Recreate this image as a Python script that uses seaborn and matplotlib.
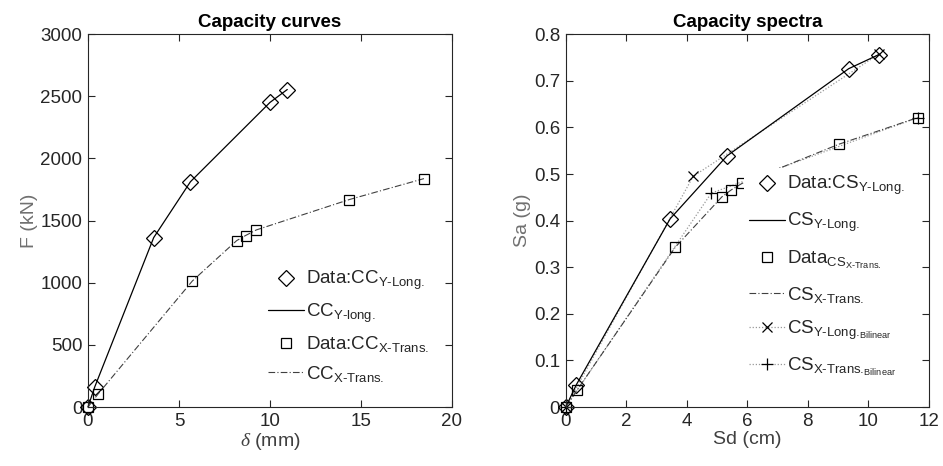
import numpy as np
import pandas as pd
import matplotlib
matplotlib.use("Agg")
import matplotlib.pyplot as plt
import seaborn as sns

# ---- data ----
ccy_d = [0, 0.37, 3.61, 5.63, 10.0, 10.95]
ccy_f = [0, 161, 1363, 1813, 2451, 2555]
ccx_d = [0, 0.55, 5.74, 8.17, 8.66, 9.25, 14.35, 18.46]
ccx_f = [0, 104, 1015, 1339, 1380, 1425, 1669, 1838]

csy_sd = [0, 0.35, 3.45, 5.33, 9.35, 10.34]
csy_sa = [0, 0.048, 0.404, 0.539, 0.726, 0.756]
csx_sd = [0, 0.37, 3.62, 5.16, 5.47, 5.83, 9.03, 11.63]
csx_sa = [0, 0.036, 0.343, 0.451, 0.466, 0.480, 0.564, 0.621]
biy_sd = [0, 4.21, 10.34]
biy_sa = [0, 0.495, 0.757]
bix_sd = [0, 4.81, 11.63]
bix_sa = [0, 0.459, 0.621]

x_ticks_left = [0, 5, 10, 15, 20]
y_ticks_left = [0, 500, 1000, 1500, 2000, 2500, 3000]
x_ticks_right = [0, 2, 4, 6, 8, 10, 12]
y_ticks_right = [0, 0.1, 0.2, 0.3, 0.4, 0.5, 0.6, 0.7, 0.8]

sns.set_style("ticks")
plt.rcParams["font.family"] = ["Liberation Sans", "DejaVu Sans"]
plt.rcParams["mathtext.fontset"] = "custom"
plt.rcParams["mathtext.rm"] = "Liberation Sans"
plt.rcParams["mathtext.it"] = "Liberation Serif:italic"
plt.rcParams["mathtext.bf"] = "Liberation Sans:bold"
plt.rcParams["mathtext.default"] = "regular"

fig = plt.figure(figsize=(9.43, 4.66), dpi=100)
axL = fig.add_axes([0.0933, 0.1266, 0.386, 0.800])
axR = fig.add_axes([0.600, 0.1266, 0.385, 0.800])

TXT = "#262626"
GRAY = "#999999"
DASHDOT = (0, (6, 2, 1, 2))
DOT = (0, (1, 1.5))
FS_TICK = 13.5
FS_LAB = 14
FS_LEG = 13.5
FS_TITLE = 13.5


def style(ax):
    for s in ax.spines.values():
        s.set_color("#262626")
        s.set_linewidth(0.8)
    ax.tick_params(direction="in", length=5, width=0.8, top=True, right=True,
                   labelsize=FS_TICK, colors="#262626", pad=4)


# ---- Left: capacity curves ----
sns.lineplot(x=ccy_d, y=ccy_f, ax=axL, sort=False, estimator=None, color="black",
             lw=0.9, marker="D", markersize=8, markerfacecolor="none",
             markeredgecolor="black", markeredgewidth=0.9, label="_a", clip_on=False)
sns.lineplot(x=ccx_d, y=ccx_f, ax=axL, sort=False, estimator=None, color="#404040",
             lw=0.8, linestyle=DASHDOT, marker="s", markersize=7,
             markerfacecolor="none", markeredgecolor="black", markeredgewidth=0.9,
             label="_b", clip_on=False)
axL.set_xlim(0, 20)
axL.set_ylim(0, 3000)
axL.set_xticks(x_ticks_left)
axL.set_yticks(y_ticks_left)
axL.set_title("Capacity curves", fontsize=FS_TITLE, fontweight="bold", color="black", pad=5)
axL.set_xlabel(r"$\it{\delta}$ (mm)", fontsize=FS_LAB, color="#404040", labelpad=1)
axL.set_ylabel("F (kN)", fontsize=FS_LAB, color="#707070", labelpad=2)
style(axL)

hL = [
    plt.Line2D([], [], ls="none", marker="D", ms=8, mfc="none", mec="black", mew=0.9),
    plt.Line2D([], [], color="black", lw=0.9),
    plt.Line2D([], [], ls="none", marker="s", ms=7, mfc="none", mec="black", mew=0.9),
    plt.Line2D([], [], color="#404040", lw=0.8, ls=DASHDOT),
]
lL = [
    r"Data:CC$_{\text{Y-Long.}}$",
    r"CC$_{\text{Y-long.}}$",
    r"Data:CC$_{\text{X-Trans.}}$",
    r"CC$_{\text{X-Trans.}}$",
]
legL = axL.legend(hL, lL, loc="upper left", bbox_to_anchor=(0.48, 0.385),
                  borderaxespad=0, frameon=True, fontsize=FS_LEG, handlelength=1.9,
                  handletextpad=0.1, labelspacing=0.5, borderpad=0.3)
legL.get_frame().set_edgecolor("none")
legL.get_frame().set_facecolor("white")
legL.get_frame().set_alpha(1)
for t in legL.get_texts():
    t.set_color(TXT)

# ---- Right: capacity spectra ----
sns.lineplot(x=biy_sd, y=biy_sa, ax=axR, sort=False, estimator=None, color=GRAY,
             lw=0.9, linestyle=DOT, marker="x", markersize=7,
             markeredgecolor="black", markeredgewidth=0.9, label="_c", clip_on=False)
sns.lineplot(x=bix_sd, y=bix_sa, ax=axR, sort=False, estimator=None, color=GRAY,
             lw=0.9, linestyle=DOT, marker="+", markersize=9,
             markeredgecolor="black", markeredgewidth=0.9, label="_d", clip_on=False)
sns.lineplot(x=csy_sd, y=csy_sa, ax=axR, sort=False, estimator=None, color="black",
             lw=0.9, marker="D", markersize=8, markerfacecolor="none",
             markeredgecolor="black", markeredgewidth=0.9, label="_e", clip_on=False)
sns.lineplot(x=csx_sd, y=csx_sa, ax=axR, sort=False, estimator=None, color="#404040",
             lw=0.8, linestyle=DASHDOT, marker="s", markersize=7,
             markerfacecolor="none", markeredgecolor="black", markeredgewidth=0.9,
             label="_f", clip_on=False)
axR.set_xlim(0, 12)
axR.set_ylim(0, 0.8)
axR.set_xticks(x_ticks_right)
axR.set_yticks(y_ticks_right)
axR.set_yticklabels(["0" if v == 0 else f"{v:.1f}" for v in y_ticks_right])
axR.set_title("Capacity spectra", fontsize=FS_TITLE, fontweight="bold", color="black", pad=5)
axR.set_xlabel("Sd (cm)", fontsize=FS_LAB, color="#404040", labelpad=1)
axR.set_ylabel("Sa (g)", fontsize=FS_LAB, color="#707070", labelpad=2)
style(axR)

hR = [
    plt.Line2D([], [], ls="none", marker="D", ms=8, mfc="none", mec="black", mew=0.9),
    plt.Line2D([], [], color="black", lw=0.9),
    plt.Line2D([], [], ls="none", marker="s", ms=7, mfc="none", mec="black", mew=0.9),
    plt.Line2D([], [], color="#404040", lw=0.8, ls=DASHDOT),
    plt.Line2D([], [], color=GRAY, lw=0.9, ls=DOT, marker="x", ms=7,
               mec="black", mew=0.9),
    plt.Line2D([], [], color=GRAY, lw=0.9, ls=DOT, marker="+", ms=9,
               mec="black", mew=0.9),
]
lR = [
    r"Data:CS$_{\text{Y-Long.}}$",
    r"CS$_{\text{Y-Long.}}$",
    r"Data$_{\text{CS}_{\text{X-Trans.}}}$",
    r"CS$_{\text{X-Trans.}}$",
    r"CS$_{\text{Y-Long.}_{\text{Bilinear}}}$",
    r"CS$_{\text{X-Trans.}_{\text{Bilinear}}}$",
]
legR = axR.legend(hR, lR, loc="upper left", bbox_to_anchor=(0.49, 0.64),
                  borderaxespad=0, frameon=True, fontsize=FS_LEG, handlelength=1.9,
                  handletextpad=0.1, labelspacing=0.75, borderpad=0.3)
legR.get_frame().set_edgecolor("none")
legR.get_frame().set_facecolor("white")
legR.get_frame().set_alpha(1)
for t in legR.get_texts():
    t.set_color(TXT)

fig.savefig("out.png", dpi=100, facecolor="white")
